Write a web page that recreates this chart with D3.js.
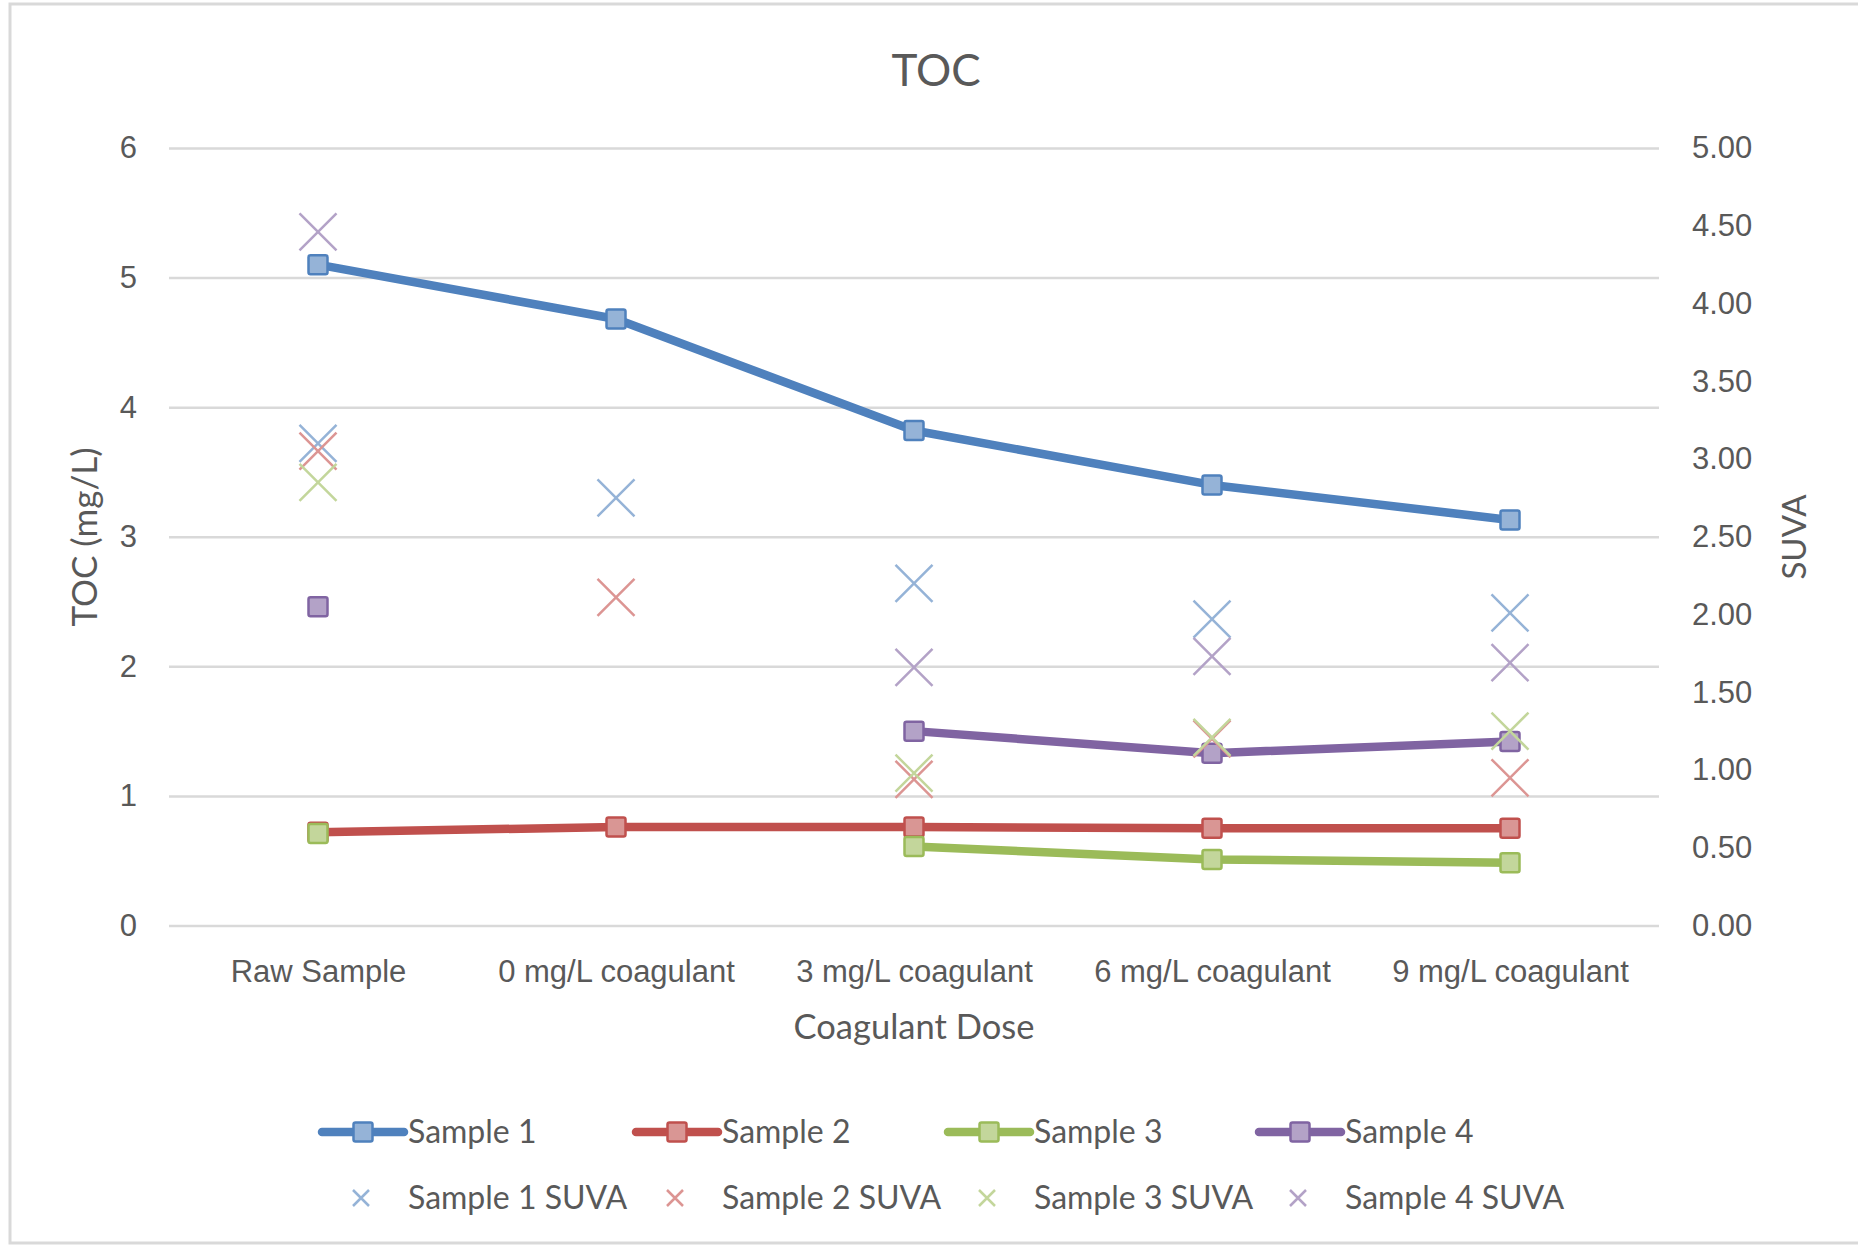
<!DOCTYPE html>
<html>
<head>
<meta charset="utf-8">
<script src="https://cdn.jsdelivr.net/npm/d3@7"></script>
<style>
  html, body { margin: 0; padding: 0; background: #fff; }
  svg { display: block; font-family: Lato, "Open Sans", sans-serif; }
</style>
</head>
<body>
<svg id="chart" width="1858" height="1246"></svg>
<script>
// Coagulant dose categories (x axis)
const categories = ["Raw Sample", "0 mg/L coagulant", "3 mg/L coagulant", "6 mg/L coagulant", "9 mg/L coagulant"];

// TOC (mg/L), primary axis; null = not measured
const toc1 = [5.10, 4.68, 3.82, 3.40, 3.13];
const toc2 = [0.72, 0.76, 0.76, 0.75, 0.75];
const toc3 = [0.71, null, 0.61, 0.51, 0.485];
const toc4 = [2.46, null, 1.50, 1.33, 1.42];

// SUVA, secondary axis
const suva1 = [3.10, 2.75, 2.20, 1.97, 2.01];
const suva2 = [3.05, 2.11, 0.94, 1.20, 0.95];
const suva3 = [2.85, null, 0.98, 1.21, 1.25];
const suva4 = [4.46, null, 1.66, 1.73, 1.69];

const tocTicks = [0, 1, 2, 3, 4, 5, 6];
const suvaTicks = [0, 0.5, 1, 1.5, 2, 2.5, 3, 3.5, 4, 4.5, 5];

const tocSeries = [
  { name: "Sample 1", values: toc1, line: "#4F81BD", fill: "#95B3D7" },
  { name: "Sample 2", values: toc2, line: "#C0504D", fill: "#D99694" },
  { name: "Sample 3", values: toc3, line: "#9BBB59", fill: "#C3D69B" },
  { name: "Sample 4", values: toc4, line: "#8064A2", fill: "#B3A2C7" }
];
const suvaSeries = [
  { name: "Sample 1 SUVA", values: suva1, color: "#95B3D7" },
  { name: "Sample 2 SUVA", values: suva2, color: "#DC9593" },
  { name: "Sample 3 SUVA", values: suva3, color: "#C3D69B" },
  { name: "Sample 4 SUVA", values: suva4, color: "#B3A2C7" }
];

const textColor = "#595959";
const gridColor = "#D9D9D9";

const svg = d3.select("#chart");

// chart frame
svg.append("rect")
  .attr("x", 10).attr("y", 4).attr("width", 1900).attr("height", 1239)
  .attr("fill", "none").attr("stroke", "#D9D9D9").attr("stroke-width", 3);

const plot = { left: 169, right: 1659, top: 148, bottom: 925.5 };

const x = d3.scalePoint().domain(categories).range([plot.left, plot.right]).padding(0.5);
const yL = d3.scaleLinear().domain([0, 6]).range([plot.bottom, plot.top]);
const yR = d3.scaleLinear().domain([0, 5]).range([plot.bottom, plot.top]);

// left axis with gridlines
const gL = svg.append("g").attr("transform", `translate(${plot.left},0)`)
  .call(d3.axisLeft(yL).tickValues(tocTicks).tickSize(-(plot.right - plot.left)).tickPadding(32).tickFormat(d3.format("d")));
gL.select(".domain").remove();
gL.selectAll(".tick line").attr("stroke", gridColor).attr("stroke-width", 2.5);
gL.selectAll(".tick text").attr("fill", textColor).attr("font-size", 31);

// right axis
const gR = svg.append("g").attr("transform", `translate(${plot.right},0)`)
  .call(d3.axisRight(yR).tickValues(suvaTicks).tickSize(0).tickPadding(33).tickFormat(d3.format(".2f")));
gR.select(".domain").remove();
gR.selectAll(".tick text").attr("fill", textColor).attr("font-size", 31);

// category axis
const gX = svg.append("g").attr("transform", `translate(0,${plot.bottom})`)
  .call(d3.axisBottom(x).tickSize(0).tickPadding(0));
gX.select(".domain").remove();
gX.selectAll(".tick text").attr("fill", textColor).attr("font-size", 31)
  .attr("y", 46).attr("dy", "0.35em");

// titles
svg.append("text").attr("x", 936).attr("y", 71).attr("dy", "0.35em")
  .attr("text-anchor", "middle").attr("font-size", 44).attr("fill", textColor).text("TOC");
svg.append("text").attr("x", (plot.left + plot.right) / 2).attr("y", 1027).attr("dy", "0.35em")
  .attr("text-anchor", "middle").attr("font-size", 34.5).attr("fill", textColor).text("Coagulant Dose");
svg.append("text").attr("transform", "translate(85,537) rotate(-90)").attr("dy", "0.35em")
  .attr("text-anchor", "middle").attr("font-size", 35).attr("fill", textColor).text("TOC (mg/L)");
svg.append("text").attr("transform", "translate(1794,537) rotate(-90)").attr("dy", "0.35em")
  .attr("text-anchor", "middle").attr("font-size", 33).attr("fill", textColor).text("SUVA");

// TOC lines and square markers
const line = d3.line()
  .defined(d => d.v != null)
  .x(d => x(d.c)).y(d => yL(d.v));

const ms = 19;
tocSeries.forEach(s => {
  const pts = s.values.map((v, i) => ({ c: categories[i], v }));
  svg.append("path").datum(pts)
    .attr("d", line).attr("fill", "none")
    .attr("stroke", s.line).attr("stroke-width", 8.5)
    .attr("stroke-linejoin", "round").attr("stroke-linecap", "round");
  svg.append("g").selectAll("rect").data(pts.filter(d => d.v != null)).join("rect")
    .attr("x", d => x(d.c) - ms / 2).attr("y", d => yL(d.v) - ms / 2)
    .attr("width", ms).attr("height", ms).attr("rx", 2)
    .attr("fill", s.fill).attr("stroke", s.line).attr("stroke-width", 2.5);
});

// SUVA cross markers
const xs = 18.5;
const crossPath = (cx, cy, r) => `M${cx - r},${cy - r}L${cx + r},${cy + r}M${cx - r},${cy + r}L${cx + r},${cy - r}`;
suvaSeries.forEach(s => {
  svg.append("g").selectAll("path")
    .data(s.values.map((v, i) => ({ c: categories[i], v })).filter(d => d.v != null))
    .join("path")
    .attr("d", d => crossPath(x(d.c), yR(d.v), xs))
    .attr("fill", "none").attr("stroke", s.color).attr("stroke-width", 2.5);
});

// legend
const legendX = [320, 634, 946, 1257];
const legend1 = svg.append("g");
tocSeries.forEach((s, i) => {
  const lx = legendX[i];
  const g = legend1.append("g").attr("transform", `translate(${lx},1132)`);
  g.append("line").attr("x1", 2).attr("x2", 84).attr("y1", 0).attr("y2", 0)
    .attr("stroke", s.line).attr("stroke-width", 8.5).attr("stroke-linecap", "round");
  g.append("rect").attr("x", 43 - ms / 2).attr("y", -ms / 2).attr("width", ms).attr("height", ms).attr("rx", 2)
    .attr("fill", s.fill).attr("stroke", s.line).attr("stroke-width", 2.5);
  g.append("text").attr("x", 88).attr("dy", "0.35em").attr("font-size", 32).attr("fill", textColor).text(s.name);
});
suvaSeries.forEach((s, i) => {
  const lx = legendX[i];
  const g = legend1.append("g").attr("transform", `translate(${lx},1198)`);
  g.append("path").attr("d", crossPath(41, 0, 8)).attr("fill", "none").attr("stroke", s.color).attr("stroke-width", 2.5);
  g.append("text").attr("x", 88).attr("dy", "0.35em").attr("font-size", 32).attr("fill", textColor).text(s.name);
});
</script>
</body>
</html>
